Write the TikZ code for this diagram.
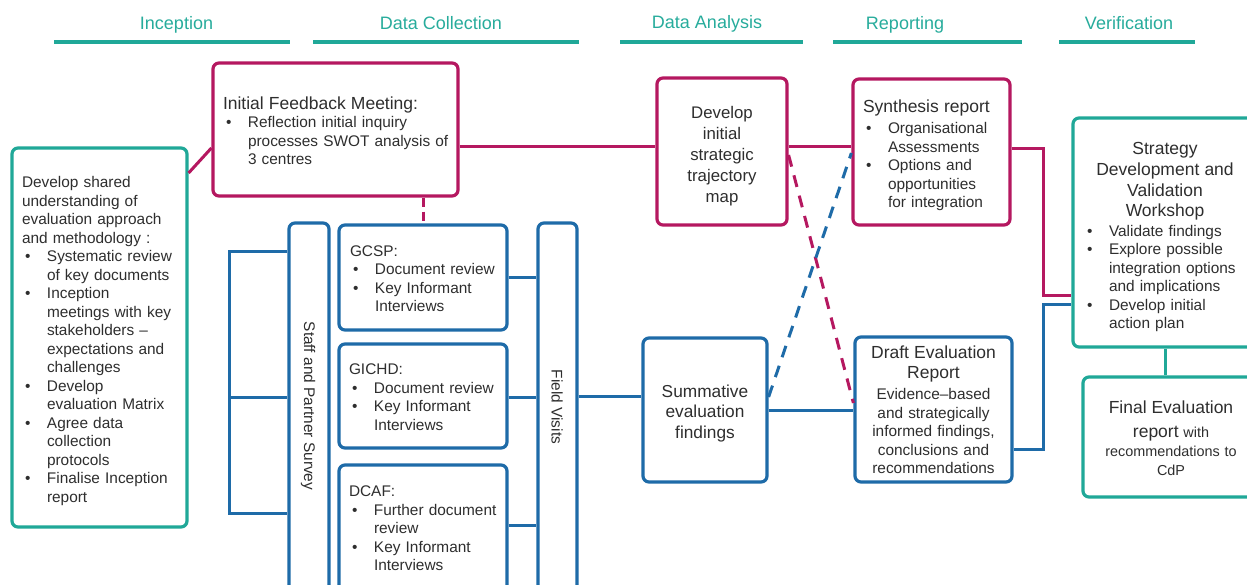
\documentclass[tikz,border=0pt]{standalone}
\usepackage{fontspec}
\setmainfont{Liberation Sans}
\usetikzlibrary{calc}
\definecolor{teal1}{HTML}{20A898}
\definecolor{tealtxt}{HTML}{27AC9C}
\definecolor{mag}{HTML}{B51860}
\definecolor{blu}{HTML}{1E6BA8}
\definecolor{txt}{HTML}{2E2E2E}
\newcommand{\bul}{\makebox[25pt][l]{\hspace{3pt}\textbullet}}
\newcommand{\ind}{\hspace*{25pt}}
\newcommand{\hd}[1]{{\fontsize{17.5}{21}\selectfont #1}}
\newcommand{\sm}{\fontsize{15.4}{18.5}\selectfont}
\newcommand{\dn}[2]{\noindent\raisebox{-#1}[\height][\depth]{#2}}
\tikzset{
  box/.style={draw, line width=3.2pt, rounded corners=6pt, fill=white, text=txt, inner ysep=0pt, align=left, font=\sm},
  tealbox/.style={box, draw=teal1},
  magbox/.style={box, draw=mag},
  blubox/.style={box, draw=blu},
  magline/.style={draw=mag, line width=3pt},
  bluline/.style={draw=blu, line width=3pt},
  tealline/.style={draw=teal1, line width=3pt},
  magdash/.style={magline, dash pattern=on 12pt off 9pt},
  bludash/.style={bluline, dash pattern=on 12pt off 9pt},
  phase/.style={text=tealtxt, font=\fontsize{18}{22}\selectfont, anchor=base, inner sep=0pt},
  phaseline/.style={draw=teal1, line width=3.8pt},
  vlabel/.style={rotate=-90, text=txt, font=\sm, inner sep=0pt},
}
\begin{document}
\begin{tikzpicture}[x=1pt,y=-1pt]
\useasboundingbox (0,0) rectangle (1247,585);
\clip (0,0) rectangle (1247,585);
\fill[white] (0,0) rectangle (1247,585);

% phase headers
\node[phase] (ph1) at (176.5,30) {Inception};
\node[phase] (ph2) at (441,30) {Data Collection};
\node[phase] (ph3) at (707,29) {Data Analysis};
\node[phase] (ph4) at (905,30) {Reporting};
\node[phase] (ph5) at (1129,30) {Verification};
\draw[phaseline] (54,42) -- (290,42);
\draw[phaseline] (313,42) -- (579,42);
\draw[phaseline] (620,42) -- (803,42);
\draw[phaseline] (833,42) -- (1022,42);
\draw[phaseline] (1059,42) -- (1195,42);

% Inception box
\node[tealbox, text width=155pt, inner xsep=10pt, minimum height=379pt] (incep) at (99.5,337.5) {\dn{4pt}{\begin{tabular}{@{}l@{}}
Develop shared\\ understanding of\\ evaluation approach\\ and methodology :\\
\bul Systematic review\\ \ind of key documents\\
\bul Inception\\ \ind meetings with key\\ \ind stakeholders --\\ \ind expectations and\\ \ind challenges\\
\bul Develop\\ \ind evaluation Matrix\\
\bul Agree data\\ \ind collection\\ \ind protocols\\
\bul Finalise Inception\\ \ind report
\end{tabular}}};

% Initial feedback meeting
\node[magbox, text width=225pt, inner xsep=10pt, minimum height=133pt] (ifm) at (335.5,129.5) {\dn{4pt}{\begin{tabular}{@{}l@{}}
\hd{Initial Feedback Meeting:}\\
\bul Reflection initial inquiry\\ \ind processes SWOT analysis of\\ \ind 3 centres
\end{tabular}}};

% Develop map
\node[magbox, align=center, text width=110pt, inner xsep=10pt, minimum height=147pt, font=\fontsize{16.8}{21}\selectfont] (devmap) at (722,151.5) {\dn{5pt}{\begin{tabular}{@{}c@{}}Develop\\initial\\strategic\\trajectory\\map\end{tabular}}};

% Synthesis report
\node[magbox, text width=137pt, inner xsep=10pt, minimum height=146pt] (synth) at (931.5,152) {\dn{4.5pt}{\begin{tabular}{@{}l@{}}
\hd{Synthesis report}\\[2.5pt]
\bul Organisational\\ \ind Assessments\\
\bul Options and\\ \ind opportunities\\ \ind for integration
\end{tabular}}};

% Strategy workshop
\node[tealbox, text width=162pt, inner xsep=11pt, minimum height=229pt] (strat) at (1165,232.5) {\dn{5.5pt}{\begin{tabular}{@{}l@{}}
\makebox[162pt][c]{\hd{Strategy}}\\[2pt]
\makebox[162pt][c]{\hd{Development and}}\\[2.5pt]
\makebox[162pt][c]{\hd{Validation}}\\[2pt]
\makebox[162pt][c]{\hd{Workshop}}\\[1pt]
\bul Validate findings\\
\bul Explore possible\\ \ind integration options\\ \ind and implications\\
\bul Develop initial\\ \ind action plan
\end{tabular}}};

% Final evaluation report
\node[tealbox, align=center, text width=156pt, inner xsep=10pt, minimum height=120pt, font=\fontsize{14.4}{19}\selectfont] (final) at (1171,437) {\dn{4pt}{\begin{tabular}{@{}c@{}}\hd{Final Evaluation}\\[5pt]\hd{report} with\\recommendations to\\CdP\end{tabular}}};

% Staff and partner survey
\node[blubox, minimum width=40pt, minimum height=377pt, inner sep=0pt] (survey) at (309,411.5) {};
\node[vlabel] (survtxt) at (308,406) {Staff and Partner Survey};

% Centre boxes
\node[blubox, text width=146pt, inner xsep=11pt, minimum height=105pt] (gcsp) at (423,277.5) {\dn{3pt}{\begin{tabular}{@{}l@{}}
GCSP:\\ \bul Document review\\ \bul Key Informant\\ \ind Interviews
\end{tabular}}};
\node[blubox, text width=148pt, inner xsep=10pt, minimum height=104pt] (gichd) at (423,396) {\dn{3pt}{\begin{tabular}{@{}l@{}}
GICHD:\\ \bul Document review\\ \bul Key Informant\\ \ind Interviews
\end{tabular}}};
\node[blubox, text width=148pt, inner xsep=10pt, minimum height=126pt] (dcaf) at (423,528) {\dn{2pt}{\begin{tabular}{@{}l@{}}
DCAF:\\ \bul Further document\\ \ind review\\ \bul Key Informant\\ \ind Interviews
\end{tabular}}};

% Field visits
\node[blubox, minimum width=39pt, minimum height=377pt, inner sep=0pt] (field) at (557.5,411.5) {};
\node[vlabel] (fieldtxt) at (557,407) {Field Visits};

% Summative findings
\node[blubox, align=center, text width=104pt, inner xsep=10pt, minimum height=144pt, font=\fontsize{17.3}{20.5}\selectfont] (summ) at (705,410) {\dn{3.5pt}{\begin{tabular}{@{}c@{}}Summative\\evaluation\\findings\end{tabular}}};

% Draft evaluation report
\node[blubox, align=center, text width=141pt, inner xsep=8pt, minimum height=145pt] (draft) at (933.5,409.5) {\dn{3pt}{\begin{tabular}{@{}c@{}}\hd{Draft Evaluation}\\[1.5pt]\hd{Report}\\[2.5pt]Evidence--based\\and strategically\\informed findings,\\conclusions and\\recommendations\end{tabular}}};

% magenta connectors
\draw[magline] (incep.east |- 0,173) -- (ifm.west |- 0,148);
\draw[magline] (ifm.east |- 0,147) -- (devmap.west |- 0,147);
\draw[magline] (devmap.east |- 0,147) -- (synth.west |- 0,147);
\draw[magline] (synth.east |- 0,149) -- (1043,149) -- (1043,295) -- (strat.west |- 0,295);
\draw[magline, dash pattern=on 9pt off 5pt] (gcsp.north |- ifm.south) -- (gcsp.north);

% blue connectors
\draw[bluline] (survey.west |- 0,252) -- (229,252) -- (229,513) -- (survey.west |- 0,513);
\draw[bluline] (229,397) -- (survey.west |- 0,397);
\draw[bluline] (gcsp.east |- 0,278) -- (field.west |- 0,278);
\draw[bluline] (gichd.east |- 0,397) -- (field.west |- 0,397);
\draw[bluline] (dcaf.east |- 0,525) -- (field.west |- 0,525);
\draw[bluline] (field.east |- 0,396) -- (summ.west |- 0,396);
\draw[bluline] (summ.east |- 0,410) -- (draft.west |- 0,410);
\draw[bluline] (draft.east |- 0,449) -- (1043,449) -- (1043,304) -- (strat.west |- 0,304);

% teal connector
\draw[tealline] (strat.south) -- (final.north -| strat.south);

% dashed crossing lines
\draw[magdash] (devmap.east |- 0,155) -- (draft.west |- 0,403);
\draw[bludash] (summ.east |- 0,397) -- (synth.west |- 0,153);
\end{tikzpicture}
\end{document}
